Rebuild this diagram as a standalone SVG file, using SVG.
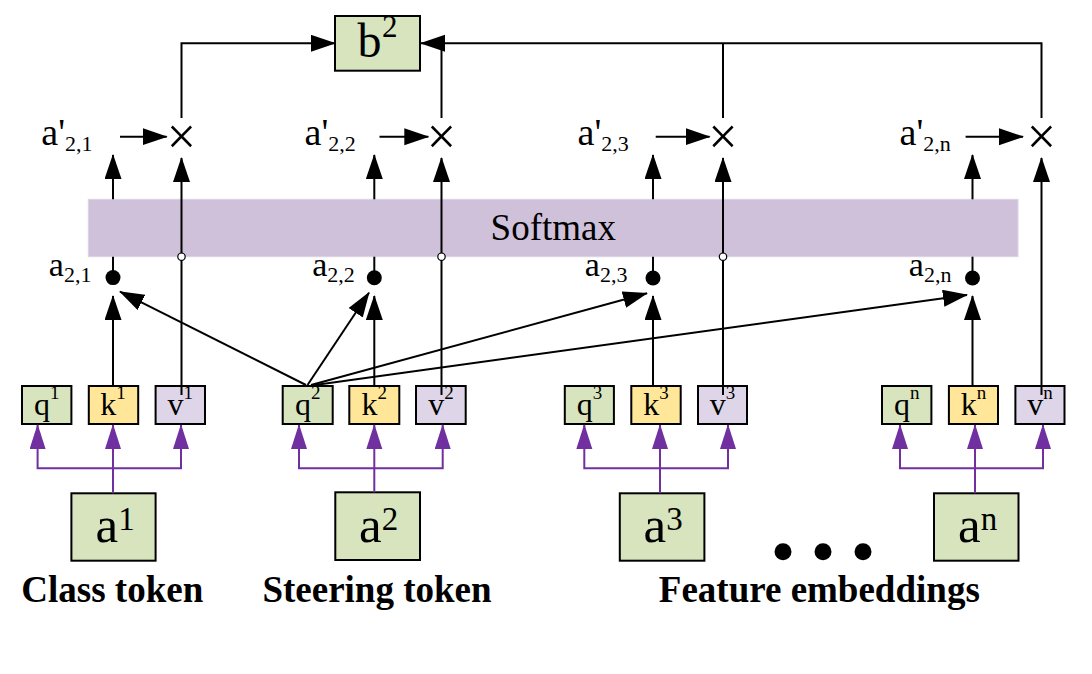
<svg xmlns="http://www.w3.org/2000/svg" width="1092" height="674" viewBox="0 0 1092 674">
<style>
.t{font-family:"Liberation Serif","Times New Roman",serif;fill:#000}
.lab{font-size:38px}
.qkv{font-size:32px}
.big{font-size:51px}
.bold{font-size:37px;font-weight:bold}
.box{stroke:#000;stroke-width:2}
.g{fill:#D7E4BD}
.y{fill:#FFE699}
.l{fill:#DED6E8}
.c{stroke:#000;stroke-width:2;fill:none}
.p{stroke:#7030A0;stroke-width:2;fill:none}
.x{font-family:"Liberation Serif","Times New Roman",serif;font-size:52px;fill:#000}
</style>
<defs>
<marker id="ab" markerUnits="userSpaceOnUse" markerWidth="26" markerHeight="18" refX="24" refY="8.5" orient="auto"><path d="M0,0 L25,8.5 L0,17 z" fill="#000"/></marker>
<marker id="ap" markerUnits="userSpaceOnUse" markerWidth="26" markerHeight="18" refX="24" refY="8" orient="auto"><path d="M0,0 L25,8 L0,16 z" fill="#7030A0"/></marker>
</defs>

<g id="softmax">
<rect x="88.3" y="199.3" width="929.7" height="57.4" fill="#CFC1DA" stroke="#DCD3E4" stroke-width="1"/>
<text class="t" x="553.3" y="240" font-size="37" text-anchor="middle">Softmax</text>
</g>

<g id="b2">
<rect class="box g" x="335" y="16" width="85" height="54.7"/>
<text class="t" x="357.5" y="56.7" font-size="48">b<tspan font-size="31" dy="-19.7" dx="0.5">2</tspan></text>
</g>

<g id="mult1"><text class="x" x="181.5" y="154" text-anchor="middle">×</text></g>
<g id="mult2"><text class="x" x="441.5" y="154" text-anchor="middle">×</text></g>
<g id="mult3"><text class="x" x="723" y="154" text-anchor="middle">×</text></g>
<g id="multn"><text class="x" x="1041.5" y="154" text-anchor="middle">×</text></g>

<g id="ap21"><text class="t lab" x="41.3" y="145">a'<tspan font-size="22" dy="5.7">2,1</tspan></text></g>
<g id="ap22"><text class="t lab" x="304.6" y="145">a'<tspan font-size="22" dy="5.7">2,2</tspan></text></g>
<g id="ap23"><text class="t lab" x="577.6" y="145">a'<tspan font-size="22" dy="5.7">2,3</tspan></text></g>
<g id="ap2n"><text class="t lab" x="899.6" y="145">a'<tspan font-size="22" dy="5.7">2,n</tspan></text></g>

<g id="a21"><text class="t" x="48.8" y="276" font-size="34">a<tspan font-size="22" dy="5.7">2,1</tspan></text><circle cx="113" cy="277.6" r="7.5" fill="#000"/></g>
<g id="a22"><text class="t" x="312.2" y="276" font-size="34">a<tspan font-size="22" dy="5.7">2,2</tspan></text><circle cx="374.3" cy="277.7" r="7.5" fill="#000"/></g>
<g id="a23"><text class="t" x="584.8" y="276" font-size="34">a<tspan font-size="22" dy="5.7">2,3</tspan></text><circle cx="653" cy="278" r="7.5" fill="#000"/></g>
<g id="a2n"><text class="t" x="908.8" y="276" font-size="34">a<tspan font-size="22" dy="5.7">2,n</tspan></text><circle cx="972.5" cy="278" r="7.5" fill="#000"/></g>

<g id="q1"><rect class="box g" x="22" y="386" width="49.4" height="38"/><text class="t qkv" x="46.7" y="415" text-anchor="middle">q<tspan font-size="19" dy="-16">1</tspan></text></g>
<g id="k1"><rect class="box y" x="88.8" y="386" width="49.4" height="38"/><text class="t qkv" x="113" y="415" text-anchor="middle">k<tspan font-size="19" dy="-16">1</tspan></text></g>
<g id="v1"><rect class="box l" x="155.6" y="386" width="49.4" height="38"/><text class="t qkv" x="180.3" y="415" text-anchor="middle">v<tspan font-size="19" dy="-16">1</tspan></text></g>

<g id="q2"><rect class="box g" x="282.7" y="386" width="50" height="38"/><text class="t qkv" x="307.7" y="415" text-anchor="middle">q<tspan font-size="19" dy="-16">2</tspan></text></g>
<g id="k2"><rect class="box y" x="349.3" y="386" width="50" height="38"/><text class="t qkv" x="374.3" y="415" text-anchor="middle">k<tspan font-size="19" dy="-16">2</tspan></text></g>
<g id="v2"><rect class="box l" x="416" y="386" width="49.7" height="38"/><text class="t qkv" x="440.9" y="415" text-anchor="middle">v<tspan font-size="19" dy="-16">2</tspan></text></g>

<g id="q3"><rect class="box g" x="564.8" y="386" width="49.1" height="38"/><text class="t qkv" x="589.4" y="415" text-anchor="middle">q<tspan font-size="19" dy="-16">3</tspan></text></g>
<g id="k3"><rect class="box y" x="631.3" y="386" width="49.4" height="38"/><text class="t qkv" x="656" y="415" text-anchor="middle">k<tspan font-size="19" dy="-16">3</tspan></text></g>
<g id="v3"><rect class="box l" x="698" y="386" width="49" height="38"/><text class="t qkv" x="722.5" y="415" text-anchor="middle">v<tspan font-size="19" dy="-16">3</tspan></text></g>

<g id="qn"><rect class="box g" x="882" y="386" width="49.4" height="38"/><text class="t qkv" x="906.7" y="415" text-anchor="middle">q<tspan font-size="19" dy="-16">n</tspan></text></g>
<g id="kn"><rect class="box y" x="948.9" y="386" width="49.1" height="38"/><text class="t qkv" x="973.5" y="415" text-anchor="middle">k<tspan font-size="19" dy="-16">n</tspan></text></g>
<g id="vn"><rect class="box l" x="1015.4" y="386" width="49.1" height="38"/><text class="t qkv" x="1040" y="415" text-anchor="middle">v<tspan font-size="19" dy="-16">n</tspan></text></g>

<g id="a1"><rect class="box g" x="71.4" y="493.3" width="84.2" height="67.4"/><text class="t big" x="95.5" y="541.7">a<tspan font-size="33" dy="-11.7">1</tspan></text></g>
<g id="a2"><rect class="box g" x="335.3" y="492.3" width="84.7" height="67.7"/><text class="t big" x="359" y="541.7">a<tspan font-size="33" dy="-11.7">2</tspan></text></g>
<g id="a3"><rect class="box g" x="619.8" y="493.3" width="84.6" height="67.4"/><text class="t big" x="643.5" y="541.7">a<tspan font-size="33" dy="-11.7">3</tspan></text></g>
<g id="an"><rect class="box g" x="934" y="493.3" width="84.5" height="67.4"/><text class="t big" x="958" y="541.7">a<tspan font-size="33" dy="-11.7">n</tspan></text></g>

<g id="ellipsis"><circle cx="783" cy="551.7" r="8.5" fill="#000"/><circle cx="823" cy="551.7" r="8.5" fill="#000"/><circle cx="863" cy="551.7" r="8.5" fill="#000"/></g>

<g id="labels">
<text class="t bold" x="112.3" y="602.3" text-anchor="middle">Class token</text>
<text class="t bold" x="377" y="602.3" text-anchor="middle">Steering token</text>
<text class="t bold" x="819.3" y="602.3" text-anchor="middle">Feature embeddings</text>
</g>

<g id="connectors">
<polyline class="c" points="181.5,118 181.5,43.3 335,43.3" marker-end="url(#ab)"/>
<polyline class="c" points="1041.5,118 1041.5,43.3 421,43.3" marker-end="url(#ab)"/>
<line class="c" x1="441.5" y1="118" x2="441.5" y2="43.3"/>
<line class="c" x1="723" y1="118" x2="723" y2="43.3"/>
<line class="c" x1="120" y1="136.7" x2="166.7" y2="136.7" marker-end="url(#ab)"/>
<line class="c" x1="379.5" y1="136.7" x2="428.3" y2="136.7" marker-end="url(#ab)"/>
<line class="c" x1="655.7" y1="136.7" x2="709.6" y2="136.7" marker-end="url(#ab)"/>
<line class="c" x1="965.6" y1="136.7" x2="1023" y2="136.7" marker-end="url(#ab)"/>
<line class="c" x1="113" y1="199.3" x2="113" y2="155" marker-end="url(#ab)"/>
<line class="c" x1="374.3" y1="199.3" x2="374.3" y2="155" marker-end="url(#ab)"/>
<line class="c" x1="653" y1="199.3" x2="653" y2="155" marker-end="url(#ab)"/>
<line class="c" x1="972.5" y1="199.3" x2="972.5" y2="155" marker-end="url(#ab)"/>
<line class="c" x1="113" y1="272" x2="113" y2="256.7"/>
<line class="c" x1="374.3" y1="272" x2="374.3" y2="256.7"/>
<line class="c" x1="653" y1="272" x2="653" y2="256.7"/>
<line class="c" x1="972.5" y1="272" x2="972.5" y2="256.7"/>
<line class="c" x1="181.5" y1="395" x2="181.5" y2="158" marker-end="url(#ab)"/>
<line class="c" x1="441.5" y1="395" x2="441.5" y2="158" marker-end="url(#ab)"/>
<line class="c" x1="723" y1="395" x2="723" y2="158" marker-end="url(#ab)"/>
<line class="c" x1="1041.5" y1="395" x2="1041.5" y2="158" marker-end="url(#ab)"/>
<circle cx="181.5" cy="256.7" r="3.7" fill="#fff" stroke="#000" stroke-width="1.2"/>
<circle cx="441.5" cy="256.7" r="3.7" fill="#fff" stroke="#000" stroke-width="1.2"/>
<circle cx="723" cy="256.7" r="3.7" fill="#fff" stroke="#000" stroke-width="1.2"/>
<line class="c" x1="113" y1="386" x2="113" y2="296" marker-end="url(#ab)"/>
<line class="c" x1="374.3" y1="386" x2="374.3" y2="296" marker-end="url(#ab)"/>
<line class="c" x1="653" y1="386" x2="653" y2="296" marker-end="url(#ab)"/>
<line class="c" x1="972.5" y1="386" x2="972.5" y2="296" marker-end="url(#ab)"/>
<line class="c" x1="306" y1="385" x2="120" y2="291.7" marker-end="url(#ab)"/>
<line class="c" x1="307.5" y1="385" x2="369" y2="292.7" marker-end="url(#ab)"/>
<line class="c" x1="311" y1="385" x2="647" y2="293.3" marker-end="url(#ab)"/>
<line class="c" x1="315" y1="385" x2="967" y2="295" marker-end="url(#ab)"/>
<polyline class="p" points="37.6,450 37.6,468.3 181,468.3 181,450"/>
<line class="p" x1="37.6" y1="450" x2="37.6" y2="425" marker-end="url(#ap)"/>
<line class="p" x1="181" y1="450" x2="181" y2="425" marker-end="url(#ap)"/>
<line class="p" x1="113" y1="493.3" x2="113" y2="425" marker-end="url(#ap)"/>
<polyline class="p" points="299,450 299,468.3 442.7,468.3 442.7,450"/>
<line class="p" x1="299" y1="450" x2="299" y2="425" marker-end="url(#ap)"/>
<line class="p" x1="442.7" y1="450" x2="442.7" y2="425" marker-end="url(#ap)"/>
<line class="p" x1="374.3" y1="492.3" x2="374.3" y2="425" marker-end="url(#ap)"/>
<polyline class="p" points="584.3,450 584.3,468.3 728,468.3 728,450"/>
<line class="p" x1="584.3" y1="450" x2="584.3" y2="425" marker-end="url(#ap)"/>
<line class="p" x1="728" y1="450" x2="728" y2="425" marker-end="url(#ap)"/>
<line class="p" x1="660" y1="493.3" x2="660" y2="425" marker-end="url(#ap)"/>
<polyline class="p" points="900,450 900,468.3 1043,468.3 1043,450"/>
<line class="p" x1="900" y1="450" x2="900" y2="425" marker-end="url(#ap)"/>
<line class="p" x1="1043" y1="450" x2="1043" y2="425" marker-end="url(#ap)"/>
<line class="p" x1="975" y1="493.3" x2="975" y2="425" marker-end="url(#ap)"/>
</g>
</svg>
